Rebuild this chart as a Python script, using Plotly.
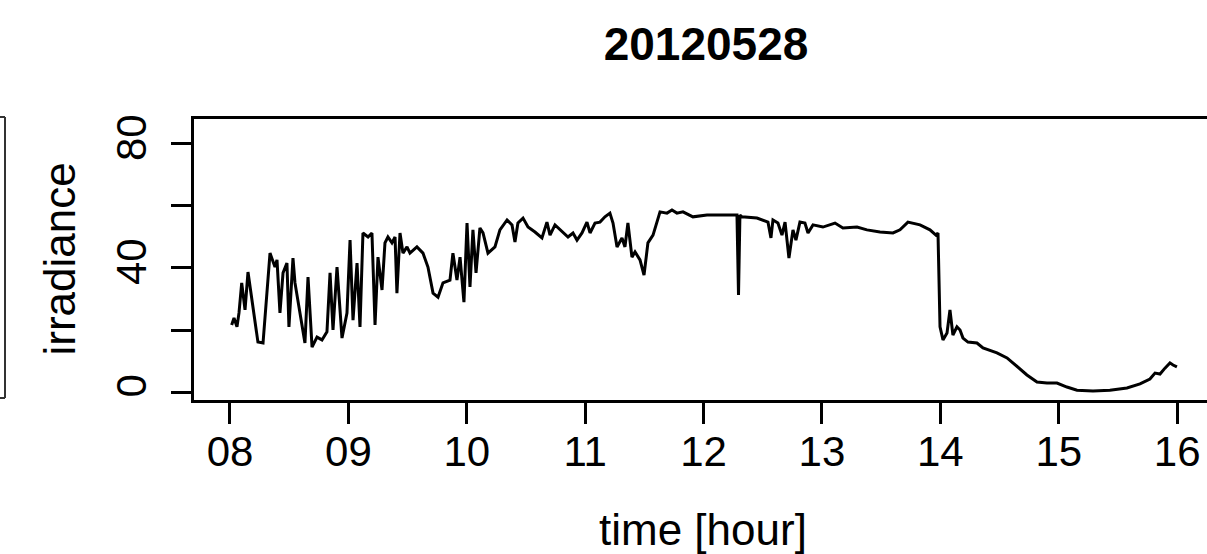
import plotly.graph_objects as go

# ---- data (decimal hours, irradiance) ----
time_hour = [
    8.014, 8.034, 8.059, 8.076, 8.099, 8.127, 8.152, 8.186, 8.236, 8.279,
    8.338, 8.380, 8.397, 8.422, 8.448, 8.481, 8.498, 8.532, 8.549, 8.633,
    8.659, 8.693, 8.735, 8.777, 8.819, 8.845, 8.870, 8.904, 8.946, 8.988,
    9.014, 9.039, 9.073, 9.098, 9.123, 9.166, 9.199, 9.225, 9.250, 9.284,
    9.309, 9.334, 9.368, 9.394, 9.410, 9.436, 9.461, 9.495, 9.520, 9.579,
    9.630, 9.672, 9.715, 9.757, 9.799, 9.858, 9.883, 9.917, 9.943, 9.976,
    10.002, 10.027, 10.052, 10.078, 10.111, 10.137, 10.179, 10.238, 10.280, 10.340,
    10.382, 10.407, 10.432, 10.475, 10.517, 10.576, 10.635, 10.677, 10.703, 10.745,
    10.813, 10.855, 10.897, 10.931, 10.973, 11.015, 11.041, 11.083, 11.125, 11.167,
    11.209, 11.235, 11.269, 11.311, 11.336, 11.361, 11.395, 11.421, 11.463, 11.497,
    11.530, 11.573, 11.632, 11.691, 11.733, 11.775, 11.826, 11.910, 12.029, 12.164,
    12.282, 12.295, 12.307, 12.324, 12.451, 12.544, 12.569, 12.586, 12.628, 12.662,
    12.688, 12.721, 12.755, 12.780, 12.814, 12.856, 12.882, 12.924, 13.008, 13.110,
    13.177, 13.296, 13.380, 13.490, 13.600, 13.659, 13.726, 13.828, 13.912, 13.963,
    13.980, 13.997, 14.022, 14.056, 14.081, 14.106, 14.140, 14.166, 14.191, 14.233,
    14.309, 14.360, 14.478, 14.563, 14.647, 14.731, 14.816, 14.900, 14.985, 15.069,
    15.154, 15.289, 15.432, 15.576, 15.686, 15.770, 15.813, 15.855, 15.897, 15.939,
    15.965, 15.998,
]
irradiance = [
    21.6, 23.9, 21.0, 25.5, 35.2, 26.5, 38.7, 29.7, 16.1, 15.8,
    44.8, 40.3, 42.6, 25.5, 38.4, 41.6, 21.0, 43.2, 35.2, 15.8,
    37.1, 14.5, 17.7, 16.8, 19.4, 38.4, 20.0, 40.3, 17.4, 25.5,
    49.0, 23.2, 41.6, 21.0, 51.3, 50.0, 51.3, 21.6, 43.5, 32.9,
    48.1, 50.0, 48.1, 50.0, 31.9, 51.3, 44.8, 46.8, 44.8, 46.8,
    44.8, 40.3, 31.9, 30.6, 35.2, 36.1, 44.8, 36.1, 43.5, 29.0,
    54.5, 33.9, 52.3, 38.4, 52.9, 51.3, 44.8, 46.8, 52.3, 55.5,
    53.9, 48.4, 54.5, 56.1, 53.2, 51.6, 49.7, 54.8, 50.6, 53.9,
    51.3, 50.0, 51.3, 49.0, 51.3, 54.8, 51.3, 54.5, 54.8, 56.5,
    57.7, 54.5, 46.8, 49.7, 46.8, 54.5, 43.5, 45.2, 42.6, 37.7,
    48.1, 50.6, 58.1, 57.7, 58.7, 57.7, 58.1, 56.5, 57.1, 57.1,
    57.1, 31.3, 57.1, 56.5, 56.1, 54.8, 49.7, 55.5, 54.5, 50.6,
    54.8, 43.2, 52.3, 49.0, 54.8, 54.5, 51.3, 53.9, 53.2, 54.5,
    52.9, 53.2, 52.3, 51.6, 51.3, 52.3, 54.8, 53.9, 52.3, 50.6,
    51.3, 21.0, 16.8, 19.0, 26.5, 18.4, 21.0, 20.0, 17.4, 16.1,
    15.8, 14.2, 12.6, 11.0, 8.1, 5.5, 3.2, 2.9, 2.9, 1.6,
    0.6, 0.3, 0.6, 1.3, 2.6, 4.2, 6.1, 5.8, 7.7, 9.4,
    8.7, 8.1,
]
x_tick_vals = [8, 9, 10, 11, 12, 13, 14, 15, 16]
x_tick_text = ["08", "09", "10", "11", "12", "13", "14", "15", "16"]
y_tick_vals = [0, 20, 40, 60, 80]
y_tick_text = ["0", "", "40", "", "80"]
title_text = "20120528"

W, H = 1207, 554
L, R, T, B = 194, 0, 119, 154
FONT = "Liberation Sans, Arial, Helvetica, sans-serif"

fig = go.Figure()
fig.add_trace(go.Scatter(
    x=time_hour, y=irradiance, mode="lines",
    line=dict(color="black", width=3), hoverinfo="skip", showlegend=False,
))

pw = W - L - R
ph = H - T - B
def px_x(p):
    return (p - L) / pw
def px_y(p):
    return 1 - (p - T) / ph

fig.update_layout(
    width=W, height=H,
    margin=dict(l=L, r=R, t=T, b=B, pad=0),
    paper_bgcolor="white", plot_bgcolor="white",
    font=dict(family=FONT, color="black", size=44),
    title=dict(text="<b>" + title_text + "</b>", x=706 / W, xanchor="center",
               y=1 - 44 / H, yanchor="middle",
               font=dict(family=FONT, size=46, color="black")),
    xaxis=dict(range=[7.696, 16.252], tickvals=x_tick_vals, ticktext=x_tick_text,
               showgrid=False, zeroline=False, showline=True, mirror=True,
               linecolor="black", linewidth=3,
               ticks="outside", ticklen=21, tickwidth=2.5, tickcolor="black",
               tickfont=dict(size=42), ticklabelstandoff=-8),
    yaxis=dict(range=[-2.58, 88.06], tickvals=y_tick_vals, ticktext=y_tick_text,
               showgrid=False, zeroline=False, showline=True, mirror=False,
               linecolor="black", linewidth=3,
               ticks="outside", ticklen=20, tickwidth=2.5, tickcolor="black",
               tickangle=-90, tickfont=dict(size=42), ticklabelstandoff=8),
    annotations=[
        dict(text="irradiance", xref="paper", yref="paper",
             x=px_x(59), y=0.5, xanchor="center", yanchor="middle",
             textangle=-90, showarrow=False, font=dict(size=44)),
        dict(text="time [hour]", xref="paper", yref="paper",
             x=px_x(703), y=px_y(529), xanchor="center", yanchor="middle",
             showarrow=False, font=dict(size=44)),
    ],
    shapes=[
        dict(type="line", xref="paper", yref="paper", x0=px_x(-2), x1=px_x(5),
             y0=px_y(117), y1=px_y(117), line=dict(color="#333", width=2)),
        dict(type="line", xref="paper", yref="paper", x0=px_x(5), x1=px_x(5),
             y0=px_y(117), y1=px_y(398), line=dict(color="#333", width=2)),
        dict(type="line", xref="paper", yref="paper", x0=px_x(-2), x1=px_x(5),
             y0=px_y(398), y1=px_y(398), line=dict(color="#333", width=2)),
    ],
)

fig.write_html("out.html")
